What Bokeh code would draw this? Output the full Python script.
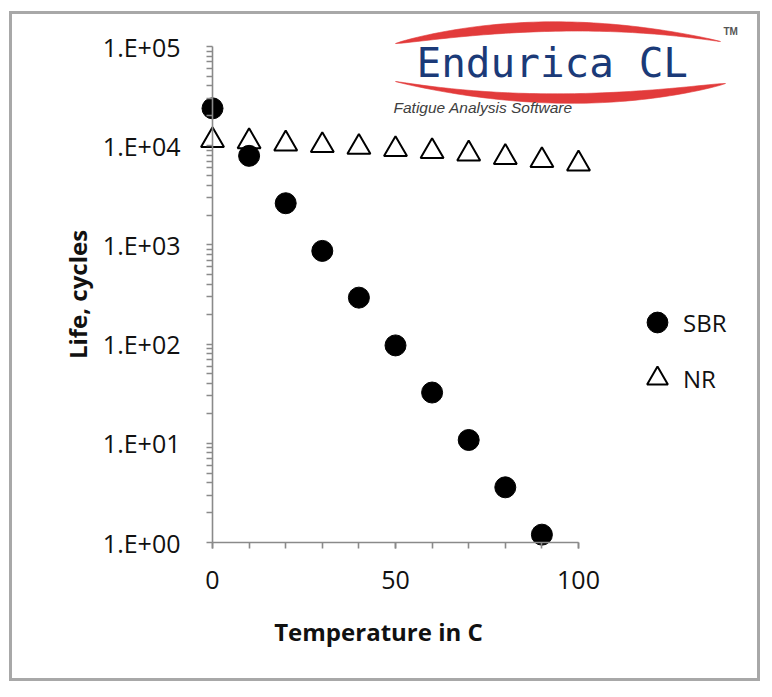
import numpy as np
from bokeh.plotting import figure
from bokeh.models import (Range1d, FixedTicker, Legend, LegendItem, Label,
                          PolyAnnotation, LinearAxis)
from bokeh.embed import file_html
from bokeh.resources import INLINE

# ---- data ----
temps_sbr = [0, 10, 20, 30, 40, 50, 60, 70, 80, 90]
life_sbr = [23800, 7900, 2630, 870, 294, 97, 32.5, 10.8, 3.6, 1.2]
temps_nr = [0, 10, 20, 30, 40, 50, 60, 70, 80, 90, 100]
life_nr = [11300, 11000, 10450, 10050, 9660, 9160, 8750, 8280, 7650, 7100, 6560]

x_major = [0, 50, 100]
x_minor = [0, 10, 20, 30, 40, 50, 60, 70, 80, 90, 100]
y_major = [1, 10, 100, 1000, 10000, 100000]
y_labels = ["1.E+00", "1.E+01", "1.E+02", "1.E+03", "1.E+04", "1.E+05"]
y_minor = [k * d for d in y_major[:-1] for k in range(2, 10)]

FONT = "Open Sans"
AXIS_GRAY = "#8a8a8a"

# ---- layout (canvas pixels) ----
W, H = 751, 670
X0_PX, X100_PX = 200, 566      # where x=0 and x=100 sit
Y1_PX, Y1E5_PX = 528, 32       # where y=1 and y=1e5 sit
ppx = (X100_PX - X0_PX) / 100.0
ppd = (Y1_PX - Y1E5_PX) / 5.0
x_range = Range1d(-X0_PX / ppx, (W - X0_PX) / ppx)
y_range = Range1d(10 ** (-(H - Y1_PX) / ppd), 10 ** (5 + Y1E5_PX / ppd))

p = figure(width=W, height=H, x_range=x_range, y_range=y_range,
           y_axis_type="log", output_backend="svg", toolbar_location=None,
           min_border_left=0, min_border_right=0,
           min_border_top=0, min_border_bottom=0)
p.styles = {"border": "3px solid #a8a8a8", "margin": "11px 0px 0px 9px"}
p.outline_line_color = None
p.xgrid.visible = False
p.ygrid.visible = False
p.background_fill_color = "white"
p.border_fill_color = "white"

r_sbr = p.scatter(temps_sbr, life_sbr, marker="circle", size=21,
                  fill_color="black", line_color="black")
r_nr = p.scatter(temps_nr, life_nr, marker="triangle", size=23,
                 fill_alpha=0, line_color="black", line_width=2)

xa = p.xaxis[0]
xa.ticker = FixedTicker(ticks=x_major, minor_ticks=x_minor)
xa.fixed_location = 1
xa.bounds = (0, 100)
ya = p.yaxis[0]
ya.ticker = FixedTicker(ticks=y_major, minor_ticks=y_minor)
ya.major_label_overrides = {v: s for v, s in zip(y_major, y_labels)}
ya.fixed_location = 0
ya.bounds = (1, 1e5)
ya.axis_label = "Life, cycles"

for ax in (xa, ya):
    ax.axis_line_color = AXIS_GRAY
    ax.axis_line_width = 1.6
    ax.major_tick_line_color = AXIS_GRAY
    ax.minor_tick_line_color = AXIS_GRAY
    ax.major_tick_line_width = 1.6
    ax.minor_tick_line_width = 1.6
    ax.major_tick_in = 0
    ax.minor_tick_in = 0
    ax.major_tick_out = 6
    ax.minor_tick_out = 6
    ax.major_label_text_font = FONT
    ax.major_label_text_font_size = "25px"
    ax.major_label_text_color = "#111111"
    ax.axis_label_text_font = FONT
    ax.axis_label_text_font_size = "24px"
    ax.axis_label_text_font_style = "bold"
    ax.axis_label_text_color = "#111111"

xa.major_label_standoff = 22
ya.major_label_standoff = 26
ya.axis_label_standoff = 6

# x-axis title: the reference centres it a little left of the axis middle
xt = LinearAxis(ticker=FixedTicker(ticks=[]), fixed_location=1,
                bounds=(-9.3, 100), axis_line_color=None,
                major_tick_out=0, minor_tick_out=0, major_tick_in=0, minor_tick_in=0,
                axis_label="Temperature in C", axis_label_standoff=72,
                axis_label_text_font=FONT, axis_label_text_font_size="24px",
                axis_label_text_font_style="bold", axis_label_text_color="#111111")
p.add_layout(xt, "below")

legend = Legend(items=[LegendItem(label="SBR", renderers=[r_sbr]),
                       LegendItem(label="NR", renderers=[r_nr])],
                location=(619, 280), glyph_width=52, glyph_height=52,
                spacing=4, padding=0, margin=0, label_standoff=0,
                border_line_alpha=0, background_fill_alpha=0,
                label_text_font=FONT, label_text_font_size="24px",
                label_text_color="#111111")
p.add_layout(legend)

# ---- logo (decoration, canvas pixel units) ----
def crescent(x0, x1, ys, wmax, skew):
    coef = np.polyfit([x0, (x0 + x1) / 2, x1], ys, 2)
    t = np.linspace(0, 1, 60)
    xx = x0 + (x1 - x0) * t
    yc = np.polyval(coef, xx)
    taper = (1 - skew * t) if skew > 0 else (1 + skew - skew * t)
    w = wmax * np.sin(np.pi * t) ** 0.7 * taper
    return (list(np.concatenate([xx, xx[::-1]])),
            list(np.concatenate([yc - w / 2, (yc + w / 2)[::-1]])))

RED = "#e23b3b"
tx, ty = crescent(380, 705, [26, 9, 24], 13, 0.55)
bx, by = crescent(380, 710, [64, 81, 66], 13, -0.55)
for xs, ys in ((tx, ty), (bx, by)):
    p.add_layout(PolyAnnotation(xs=xs, ys=ys, xs_units="canvas", ys_units="canvas",
                                fill_color=RED, fill_alpha=1, line_color=RED,
                                line_alpha=0.6, line_width=1))

p.add_layout(Label(x=401, y=45, x_units="canvas", y_units="canvas",
                   text="Endurica CL", text_font="DejaVu Sans Mono",
                   text_font_size="41px", text_color="#1b3a78",
                   text_baseline="alphabetic", text_align="left"))
p.add_layout(Label(x=378, y=90, x_units="canvas", y_units="canvas",
                   text="Fatigue Analysis Software", text_font="Liberation Sans",
                   text_font_size="15.5px", text_font_style="italic",
                   text_color="#404040", text_baseline="alphabetic"))
p.add_layout(Label(x=708, y=14, x_units="canvas", y_units="canvas",
                   text="TM", text_font="Liberation Sans",
                   text_font_size="10px", text_font_style="bold",
                   text_color="#555555", text_baseline="alphabetic"))

open("out.html", "w").write(file_html(p, INLINE))
